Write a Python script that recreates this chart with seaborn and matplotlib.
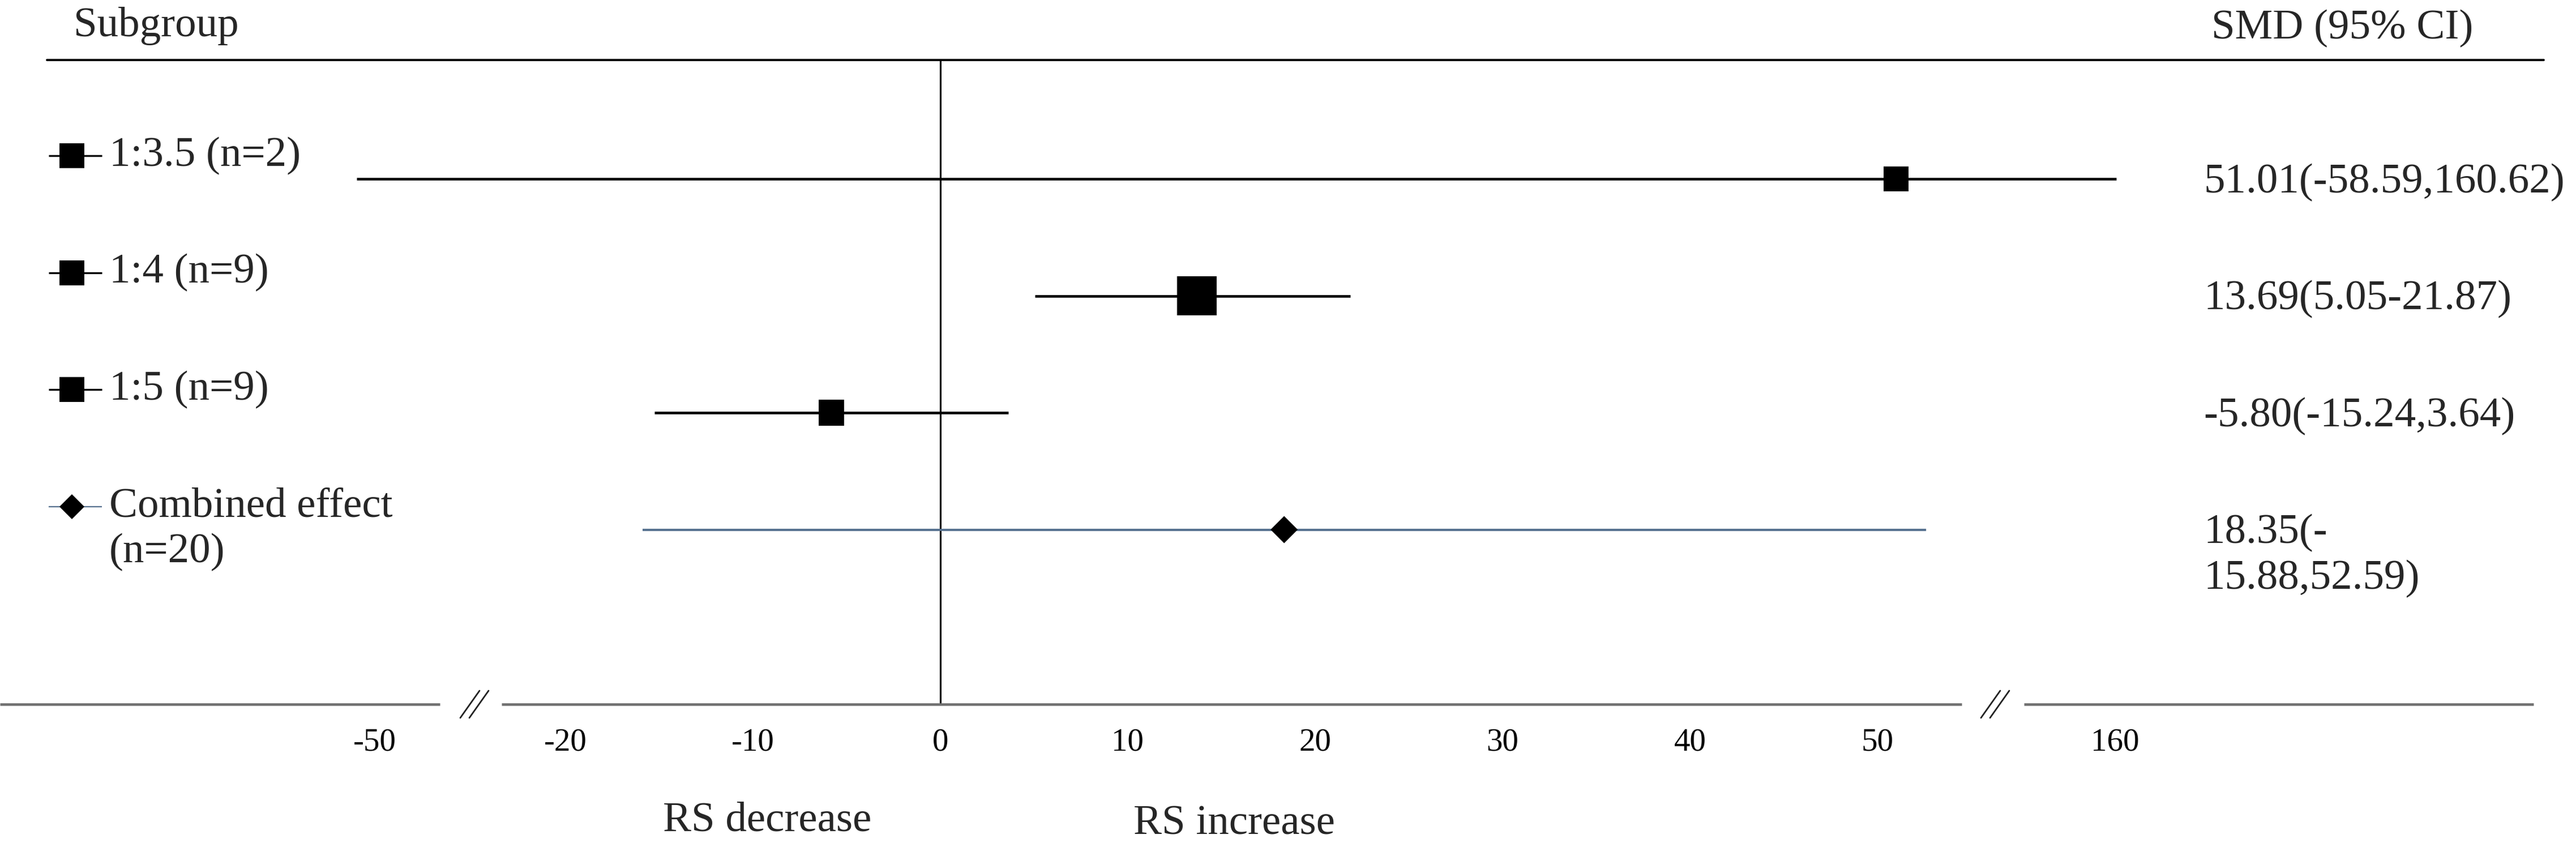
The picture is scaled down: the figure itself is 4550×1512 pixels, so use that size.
import numpy as np
import pandas as pd
import matplotlib
matplotlib.use("Agg")
import matplotlib.pyplot as plt
import matplotlib.transforms as mtransforms
from matplotlib.lines import Line2D
import seaborn as sns

# ---------------- data ----------------
subgroups = ["1:3.5 (n=2)", "1:4 (n=9)", "1:5 (n=9)", "Combined effect\n(n=20)"]
kinds = ["subgroup", "subgroup", "subgroup", "combined"]
smd = [51.01, 13.69, -5.80, 18.35]
ci_low = [-58.59, 5.05, -15.24, -15.88]
ci_high = [160.62, 21.87, 3.64, 52.59]
ci_text = ["51.01(-58.59,160.62)", "13.69(5.05-21.87)",
           "-5.80(-15.24,3.64)", "18.35(-\n15.88,52.59)"]
tick_values = [-50, -20, -10, 0, 10, 20, 30, 40, 50, 160]
tick_labels = ["-50", "-20", "-10", "0", "10", "20", "30", "40", "50", "160"]
header_left = "Subgroup"
header_right = "SMD (95% CI)"
side_left = "RS decrease"
side_right = "RS increase"

df = pd.DataFrame({"subgroup": subgroups, "kind": kinds, "smd": smd,
                   "low": ci_low, "high": ci_high, "row": np.arange(len(subgroups))})

# ---------------- style / layout ----------------
W, H, DPI = 4550, 1512, 100
FS = 54
marker_sizes = {"1:3.5 (n=2)": 1004, "1:4 (n=9)": 2540, "1:5 (n=9)": 1050,
                "Combined effect\n(n=20)": 596}
marker_shapes = {"subgroup": "s", "combined": "D"}
line_colors = {"subgroup": "black", "combined": "#56718f"}
ROW0, ROW_STEP = 316, 206.5          # pixel y of first row, spacing
AXIS_Y = 1244                          # pixel y of the x axis line
TOP_Y = 106                            # pixel y of the header rule
# broken x-axis: piecewise-linear mapping data -> pixel
knot_data = [-230, -50, -23.4, 54.5, 160, 476]
knot_px = [0, 662, 886, 3465, 3736, 4550]

sns.set_theme(style="white")
plt.rcParams["font.family"] = ["Liberation Serif", "DejaVu Serif"]
plt.rcParams["axes.facecolor"] = "none"

fig = plt.figure(figsize=(W / DPI, H / DPI), dpi=DPI)
fig.patch.set_facecolor("white")
ax = fig.add_axes([0, 1 - AXIS_Y / H, 1, AXIS_Y / H])

# CI lines
ax.hlines(df["row"], df["low"], df["high"],
          colors=[line_colors[k] for k in df["kind"]],
          linewidths=[3.3 if k == "subgroup" else 2.9 for k in df["kind"]],
          zorder=2)

# point estimates
sns.scatterplot(data=df, x="smd", y="row", style="kind", markers=marker_shapes,
                size="subgroup", sizes=marker_sizes, color="black",
                linewidth=0, legend=False, zorder=3, ax=ax)

# scale (set after plotting)
def fwd(v):
    return np.interp(v, knot_data, knot_px)

def inv(p):
    return np.interp(p, knot_px, knot_data)

ax.set_xscale("function", functions=(fwd, inv))
ax.set_xlim(knot_data[0], knot_data[-1])
ax.set_ylim((AXIS_Y - ROW0) / ROW_STEP, -ROW0 / ROW_STEP)

# zero line
ax.axvline(0, ymin=0, ymax=(AXIS_Y - TOP_Y) / AXIS_Y, color="black", lw=2.2, zorder=1)

ax.set_xticks(tick_values)
ax.set_xticklabels(tick_labels)
ax.tick_params(axis="x", length=0, pad=30, labelsize=41, colors="black")
ax.set_yticks([])
ax.set_xlabel("")
ax.set_ylabel("")
for s in ax.spines.values():
    s.set_visible(False)

# broken axis line segments
axis_col = "#707070"
for a, b in [(0, 777), (886, 3465), (3575, 4475)]:
    ax.plot([a / W, b / W], [0, 0], transform=ax.transAxes, color=axis_col,
            lw=3.3, clip_on=False, solid_capstyle="butt")
# break marks
for cx in [838, 3524]:
    for dx in (-8, 8):
        fig.add_artist(Line2D([(cx + dx - 17) / W, (cx + dx + 17) / W],
                              [1 - 1268 / H, 1 - 1220 / H],
                              color="#222222", lw=2.0))

# header rule
fig.add_artist(Line2D([83 / W, 4493 / W], [1 - TOP_Y / H] * 2, color="black", lw=2.8))

# headers
fig.text(130 / W, 1 - 46 / H, header_left, fontsize=FS, ha="left", va="center")
fig.text(3906 / W, 1 - 50 / H, header_right, fontsize=FS, ha="left", va="center")
fig.text(1355 / W, 1 - 1450 / H, side_left, fontsize=FS, ha="center", va="center")
fig.text(2180 / W, 1 - 1456 / H, side_right, fontsize=FS, ha="center", va="center")

# row texts and icons
row_base = mtransforms.blended_transform_factory(fig.transFigure, ax.transData)

def row_trans(dy):
    return mtransforms.offset_copy(row_base, fig=fig, x=0, y=dy, units="dots")

LINE_GAP = 81
for i, r in df.iterrows():
    t_left = row_trans(41)
    # icon
    ax.plot([86 / W, 180 / W], [r["row"]] * 2, transform=t_left,
            color=line_colors[r["kind"]], lw=2.4 if r["kind"] == "subgroup" else 1.6,
            clip_on=False, solid_capstyle="butt")
    ax.plot([127 / W], [r["row"]], transform=t_left, marker=marker_shapes[r["kind"]],
            ms=31 if r["kind"] == "subgroup" else 22, color="black", mew=0,
            clip_on=False)
    for j, line in enumerate(r["subgroup"].split("\n")):
        ax.text(193 / W, r["row"], line, transform=row_trans(41 - j * LINE_GAP),
                fontsize=FS, ha="left", va="center", clip_on=False)
    for j, line in enumerate(ci_text[i].split("\n")):
        ax.text(3892 / W, r["row"], line, transform=row_trans(-6 - j * LINE_GAP),
                fontsize=FS, ha="left", va="center", clip_on=False)

fig.savefig("out.png", dpi=DPI, facecolor="white")
